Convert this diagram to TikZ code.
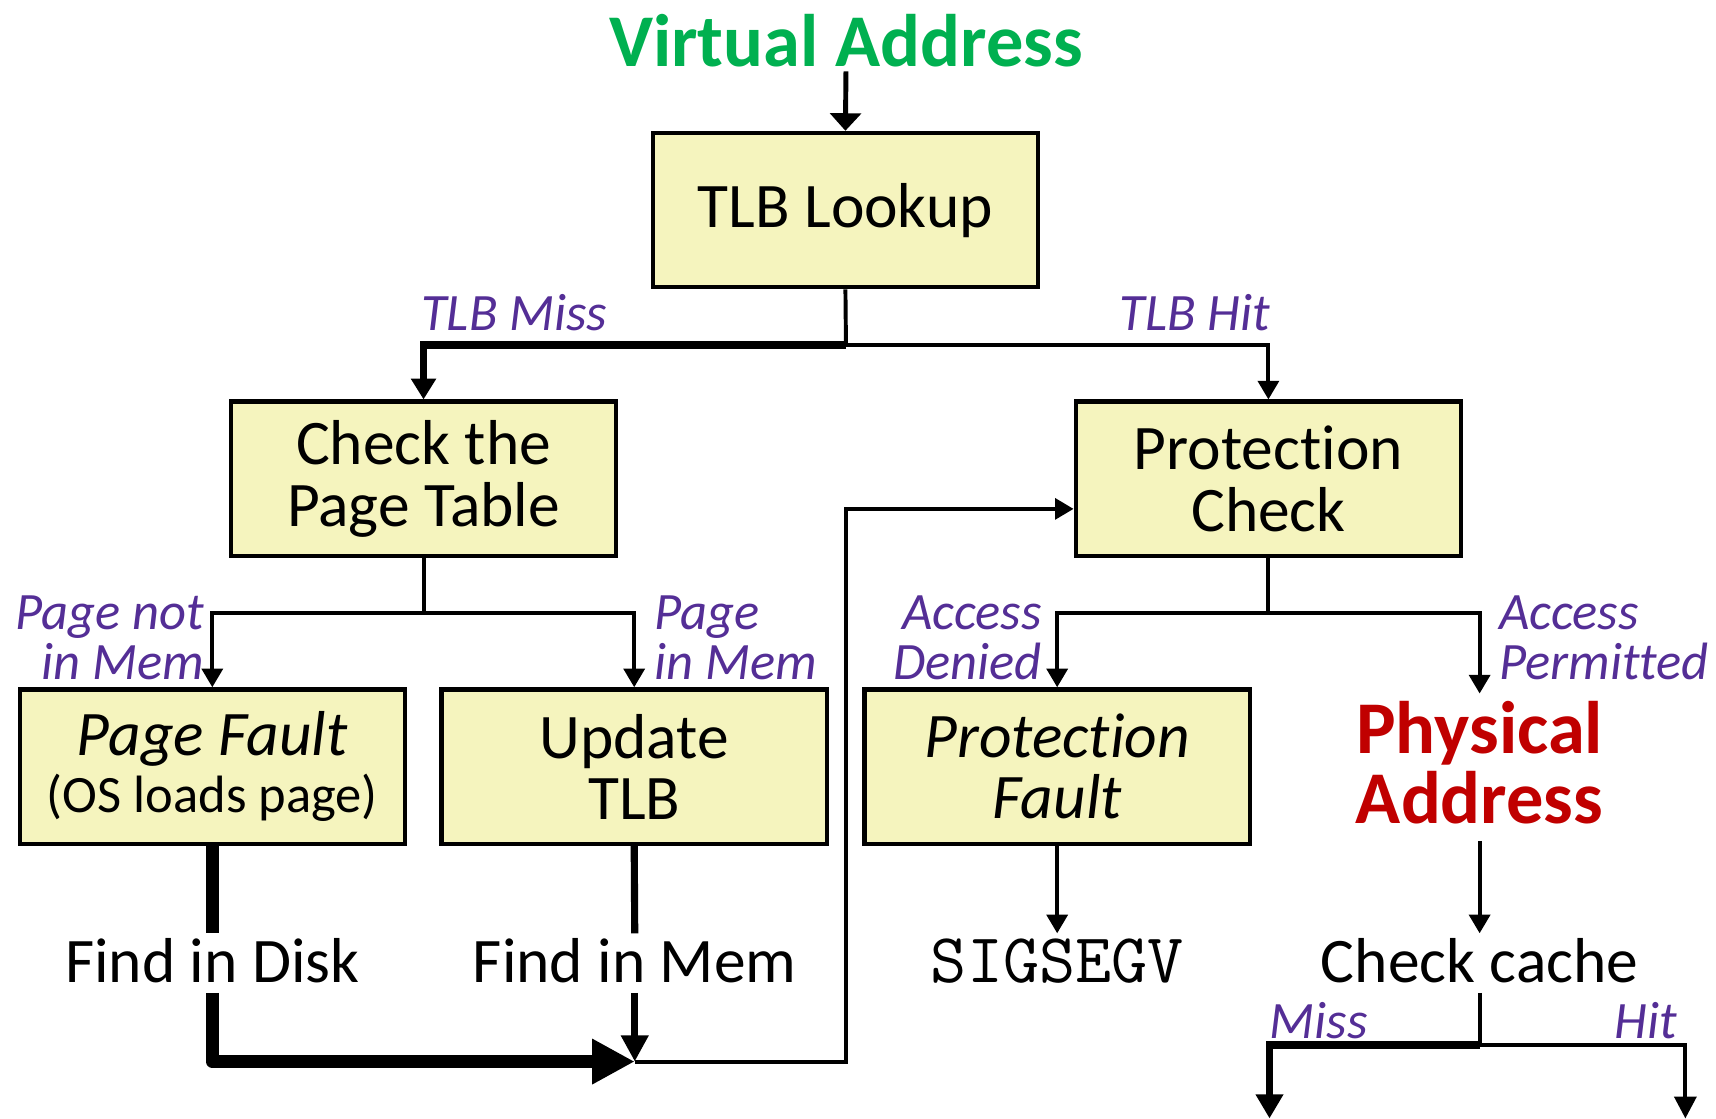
\documentclass[tikz,border=0pt]{standalone}
\usepackage{fontspec}
\setmainfont{Carlito}[Ligatures={NoCommon,NoRequired,NoContextual},Contextuals=NoAlternate]
\usetikzlibrary{arrows.meta}
\definecolor{boxfill}{RGB}{245,244,190}
\definecolor{lblpurple}{RGB}{84,46,150}
\definecolor{vagreen}{RGB}{0,176,80}
\definecolor{pared}{RGB}{192,0,0}
\begin{document}
\begin{tikzpicture}[x=1pt,y=-1pt,
 box/.style={draw=black, line width=4pt, fill=boxfill, minimum width=352pt, minimum height=141pt, inner sep=0pt, align=center, font=\fontsize{58}{56}\selectfont},
 lbl/.style={text=lblpurple, font=\fontsize{48}{46}\selectfont\itshape, inner sep=0pt},
 plain/.style={font=\fontsize{58}{56}\selectfont, inner ysep=5pt, inner xsep=0pt, text height=40pt, text depth=4pt},
 big/.style={font=\fontsize{68}{64}\selectfont\bfseries, inner sep=0pt, align=center},
 conn/.style={line width=3.6pt},
 tip/.style={-{Triangle[length=17pt,width=19pt]}},
 thickmiss/.style={line width=7pt},
 line join=miter
]
\useasboundingbox (0,0) rectangle (1568,1022);
% nodes
\node[big, text=vagreen] (va) at (773,37) {Virtual Address};
\node[box] (tlb) at (772.5,192) {TLB Lookup};
\node[box] (cpt) at (387,437.5) {Check the\\Page Table};
\node[box] (pc) at (1159,437.5) {Protection\\Check};
\node[box] (pf) at (194,700.5) {\textit{Page Fault}\\[-4pt]{\fontsize{48}{48}\selectfont (OS loads page)}};
\node[box] (ut) at (579.5,700.5) {Update\\TLB};
\node[box, font=\fontsize{58}{56}\selectfont\itshape] (pfault) at (966,700.5) {Protection\\Fault};
\node[big, text=pared] (pa) at (1352,697) {Physical\\Address};
\node[plain] (fid) at (194,880) {Find in Disk};
\node[plain] (fim) at (580,880) {Find in Mem};
\node[plain, font=\fontsize{64}{56}\selectfont\ttfamily] (sig) at (966,880) {SIGSEGV};
\node[plain] (cc) at (1352,880) {Check cache};
% labels
\node[lbl] (l1) at (470,286) {TLB Miss};
\node[lbl] (l2) at (1092,286) {TLB Hit};
\node[lbl, align=right, anchor=east] (l3) at (187,583) {Page not\\in Mem};
\node[lbl, align=left, anchor=west] (l4) at (598,583) {Page\\in Mem};
\node[lbl, align=right, anchor=east] (l5) at (952,583) {Access\\Denied};
\node[lbl, align=left, anchor=west] (l6) at (1370,583) {Access\\Permitted};
\node[lbl] (l7) at (1205,933) {Miss};
\node[lbl] (l8) at (1504,933) {Hit};
% coordinates
\coordinate (tlbj) at (773,315);
\coordinate (cptj) at (387,560);
\coordinate (pcj) at (1159,560);
\coordinate (join) at (580,970);
\coordinate (ccj) at (1352,955);
\coordinate (missend) at (1160,1022);
\coordinate (hitend) at (1540,1022);
% connectors
\draw[line width=4.5pt, -{Triangle[length=16pt,width=28pt]}] ([yshift=-4pt]va.south) -- (tlb.north);
\draw[conn] (tlb.south) -- (tlbj);
\draw[conn, tip] (tlbj) -| (pc.north);
\draw[thickmiss, -{Triangle[length=19pt,width=22pt]}] (tlbj) -| (cpt.north);
\draw[conn] (cpt.south) -- (cptj);
\draw[conn, tip] (cptj) -| (pf.north);
\draw[conn, tip] (cptj) -| (ut.north);
\draw[conn] (pc.south) -- (pcj);
\draw[conn, tip] (pcj) -| (pfault.north);
\draw[conn, tip] (pcj) -| ([yshift=7pt]pa.north);
\draw[line width=12pt] (pf.south) -- (fid.north);
\draw[line width=12pt, line join=round, -{Triangle[length=39pt,width=39pt]}] (fid.south) |- (join);
\draw[line width=6.5pt] (ut.south) -- (fim.north);
\draw[line width=6.5pt, -{Triangle[length=24pt,width=24pt]}] (fim.south) -- (join);
\draw[conn, tip] (join) -- ++(193,0) |- ([yshift=-27.5pt]pc.west);
\draw[conn, tip] (pfault.south) -- (sig.north);
\draw[conn, tip] ([yshift=-15pt]pa.south) -- (cc.north);
\draw[conn] (cc.south) -- (ccj);
\draw[thickmiss, -{Triangle[length=22pt,width=24pt]}] (ccj) -| (missend);
\draw[conn, -{Triangle[length=20pt,width=20pt]}] (ccj) -| (hitend);
\end{tikzpicture}
\end{document}
